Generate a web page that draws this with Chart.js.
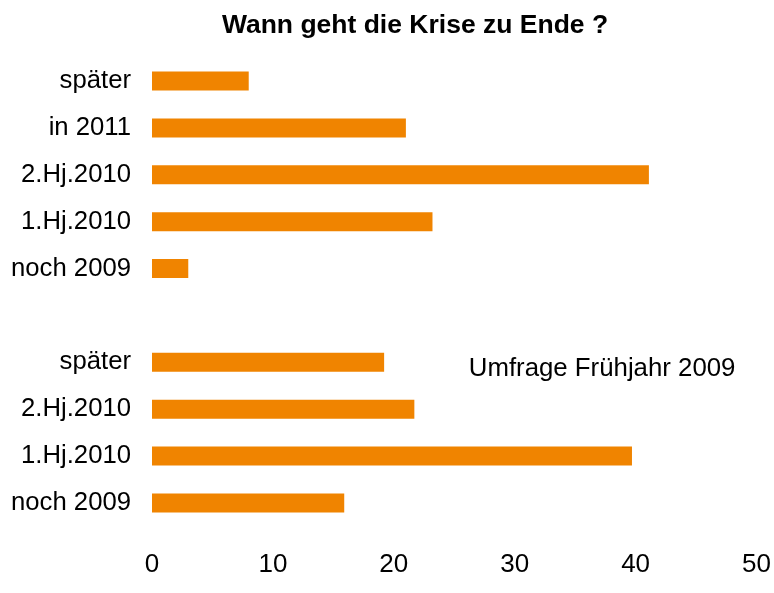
<!DOCTYPE html>
<html>
<head>
<meta charset="utf-8">
<script src="https://cdn.jsdelivr.net/npm/chart.js@4.4.0/dist/chart.umd.min.js"></script>
<style>
  html, body { margin: 0; padding: 0; background: #ffffff; }
  #wrap { width: 774px; height: 593px; position: relative; }
</style>
</head>
<body>
<div id="wrap"><canvas id="c" width="774" height="593"></canvas></div>
<script>
const titleText = 'Wann geht die Krise zu Ende ?';
const categories = ['später', 'in 2011', '2.Hj.2010', '1.Hj.2010', 'noch 2009', '', 'später', '2.Hj.2010', '1.Hj.2010', 'noch 2009'];
const values = [8.0, 21.0, 41.1, 23.2, 3.0, null, 19.2, 21.7, 39.7, 15.9];
const xTicks = [0, 10, 20, 30, 40, 50];
const noteText = 'Umfrage Frühjahr 2009';
const noteAt = { x: 26.2, category: 6 };

const FONT = "'Liberation Sans', Arial, sans-serif";

const notePlugin = {
  id: 'note',
  afterLayout(chart) {
    // the title in the original is centred a little left of the canvas centre
    const t = chart.titleBlock;
    if (t) { t.left = 56; t.right = chart.width; }
  },
  afterDatasetsDraw(chart) {
    const ctx = chart.ctx;
    const xs = chart.scales.x, ys = chart.scales.y;
    ctx.save();
    ctx.font = '25.8px ' + FONT;
    ctx.fillStyle = '#000000';
    ctx.textAlign = 'left';
    ctx.textBaseline = 'alphabetic';
    ctx.fillText(noteText, xs.getPixelForValue(noteAt.x), ys.getPixelForValue(noteAt.category) + 14);
    ctx.restore();
  }
};

new Chart(document.getElementById('c'), {
  type: 'bar',
  data: {
    labels: categories,
    datasets: [{
      data: values,
      backgroundColor: '#F08400',
      borderWidth: 0,
      categoryPercentage: 1.0,
      barPercentage: 0.405
    }]
  },
  options: {
    indexAxis: 'y',
    responsive: false,
    animation: false,
    devicePixelRatio: 1,
    layout: { padding: { left: 0, right: 0, top: 0, bottom: 0 } },
    plugins: {
      legend: { display: false },
      tooltip: { enabled: false },
      title: {
        display: true,
        text: titleText,
        color: '#000000',
        font: { family: FONT, size: 26.5, weight: 'bold', lineHeight: 1.2 },
        padding: { top: 9.9, bottom: 15.85 }
      }
    },
    scales: {
      x: {
        min: 0, max: 50,
        afterBuildTicks(scale) { scale.ticks = xTicks.map(v => ({ value: v })); },
        afterFit(scale) { scale.height = 66.55; scale.paddingRight = 17.5; scale.paddingLeft = 0; },
        grid: { display: false, drawTicks: false },
        border: { display: false },
        ticks: { color: '#000000', padding: 22.5, font: { family: FONT, size: 26 } }
      },
      y: {
        afterFit(scale) { scale.width = 152; },
        grid: { display: false, drawTicks: false },
        border: { display: false },
        ticks: { color: '#000000', padding: 21, font: { family: FONT, size: 25.7 } }
      }
    }
  },
  plugins: [notePlugin]
});
</script>
</body>
</html>
